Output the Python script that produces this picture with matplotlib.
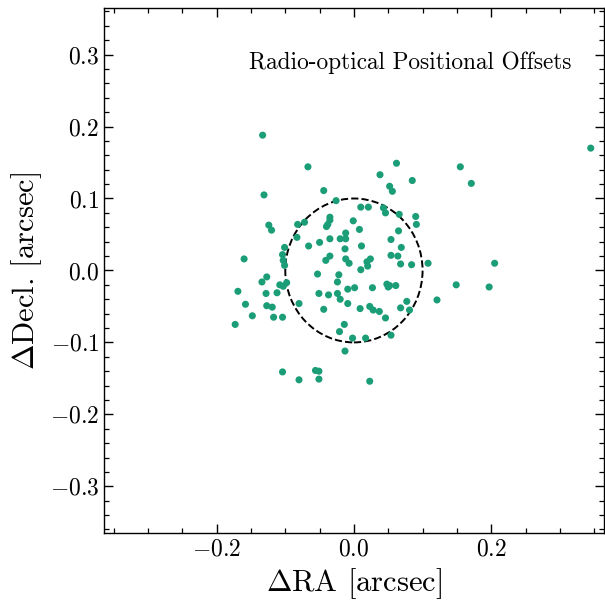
import matplotlib
matplotlib.use('Agg')
import matplotlib.pyplot as plt
from matplotlib.patches import Circle
from matplotlib.ticker import MultipleLocator
import numpy as np

# Computer Modern look without LaTeX
plt.rcParams['font.family'] = 'serif'
plt.rcParams['font.serif'] = ['cmr10']
plt.rcParams['mathtext.fontset'] = 'cm'
plt.rcParams['axes.formatter.use_mathtext'] = True

# offsets (arcsec)
d_ra = [-0.133, -0.067, 0.062, 0.038, 0.085, -0.131, -0.044, 0.052, 0.056, -0.026,
        0.010, 0.021, 0.043, 0.046, 0.066, 0.090, 0.091, -0.124, -0.120, -0.082,
        -0.072, -0.035, -0.035, -0.038, -0.040, -0.001, 0.008, 0.065, -0.083, -0.035,
        -0.050, -0.020, -0.012, -0.012, 0.054, -0.066, -0.101, 0.011, -0.013, 0.069,
        -0.160, -0.104, -0.103, -0.101, -0.035, -0.041, -0.012, -0.007, 0.019, 0.024,
        0.020, 0.010, 0.054, 0.064, 0.068, 0.084, -0.053, -0.022, -0.024, -0.127,
        -0.134, -0.108, -0.103, -0.098, -0.169, -0.128, -0.112, -0.051, -0.037, -0.024,
        -0.020, -0.009, 0.001, 0.027, 0.048, 0.052, 0.061, 0.050, 0.077, -0.158,
        -0.127, -0.119, -0.080, -0.009, -0.148, -0.117, -0.104, -0.044, 0.009, 0.023,
        0.028, 0.037, 0.068, 0.081, 0.046, -0.173, -0.014, -0.021, -0.002, 0.017,
        0.054, -0.013, -0.104, -0.056, -0.051, -0.080, -0.051, 0.023, 0.345, 0.155,
        0.171, 0.108, 0.205, 0.149, 0.197, 0.121]
d_dec = [0.188, 0.144, 0.149, 0.133, 0.125, 0.105, 0.111, 0.117, 0.110, 0.097,
         0.088, 0.088, 0.087, 0.080, 0.078, 0.075, 0.064, 0.063, 0.056, 0.064,
         0.067, 0.074, 0.070, 0.064, 0.061, 0.069, 0.057, 0.055, 0.046, 0.044,
         0.039, 0.044, 0.052, 0.044, 0.043, 0.034, 0.032, 0.034, 0.030, 0.032,
         0.016, 0.022, 0.014, 0.007, 0.020, 0.014, 0.016, 0.010, 0.012, 0.016,
         0.006, 0.001, 0.021, 0.020, 0.009, 0.008, -0.005, -0.006, -0.016, -0.009,
         -0.016, -0.020, -0.022, -0.017, -0.029, -0.032, -0.031, -0.032, -0.034, -0.032,
         -0.040, -0.026, -0.024, -0.024, -0.019, -0.021, -0.021, -0.023, -0.043, -0.047,
         -0.049, -0.051, -0.046, -0.046, -0.063, -0.065, -0.065, -0.054, -0.053, -0.050,
         -0.055, -0.057, -0.052, -0.055, -0.066, -0.075, -0.075, -0.085, -0.094, -0.094,
         -0.090, -0.112, -0.141, -0.139, -0.140, -0.152, -0.151, -0.154, 0.170, 0.144,
         0.121, 0.010, 0.010, -0.020, -0.023, -0.041]

fig = plt.figure(figsize=(6.05, 6.01), dpi=100)
ax = fig.add_axes([0.172, 0.113, 0.826, 0.874])

ax.scatter(d_ra, d_dec, s=26, color='#1b9e77', edgecolors='none', zorder=3)
ax.add_patch(Circle((0, 0), 0.1, fill=False, ls='--', lw=1.4, color='black', zorder=2))

ax.set_xlim(-0.364, 0.364)
ax.set_ylim(-0.365, 0.365)
ax.xaxis.set_major_locator(MultipleLocator(0.2))
ax.xaxis.set_minor_locator(MultipleLocator(0.05))
ax.yaxis.set_major_locator(MultipleLocator(0.1))
ax.yaxis.set_minor_locator(MultipleLocator(0.02))
ax.tick_params(which='both', direction='in', top=True, right=True, labelsize=17)
ax.tick_params(which='major', length=6.2, width=1.0)
ax.tick_params(which='minor', length=3.3, width=0.9)
for sp in ax.spines.values():
    sp.set_linewidth(1.0)

ax.set_xlabel(r'$\Delta$RA [arcsec]', fontsize=22)
ax.set_ylabel(r'$\Delta$Decl. [arcsec]', fontsize=22)
ax.text(0.935, 0.895, 'Radio-optical Positional Offsets', transform=ax.transAxes,
        ha='right', va='center', fontsize=16.8)

fig.savefig('out.png', dpi=100)
